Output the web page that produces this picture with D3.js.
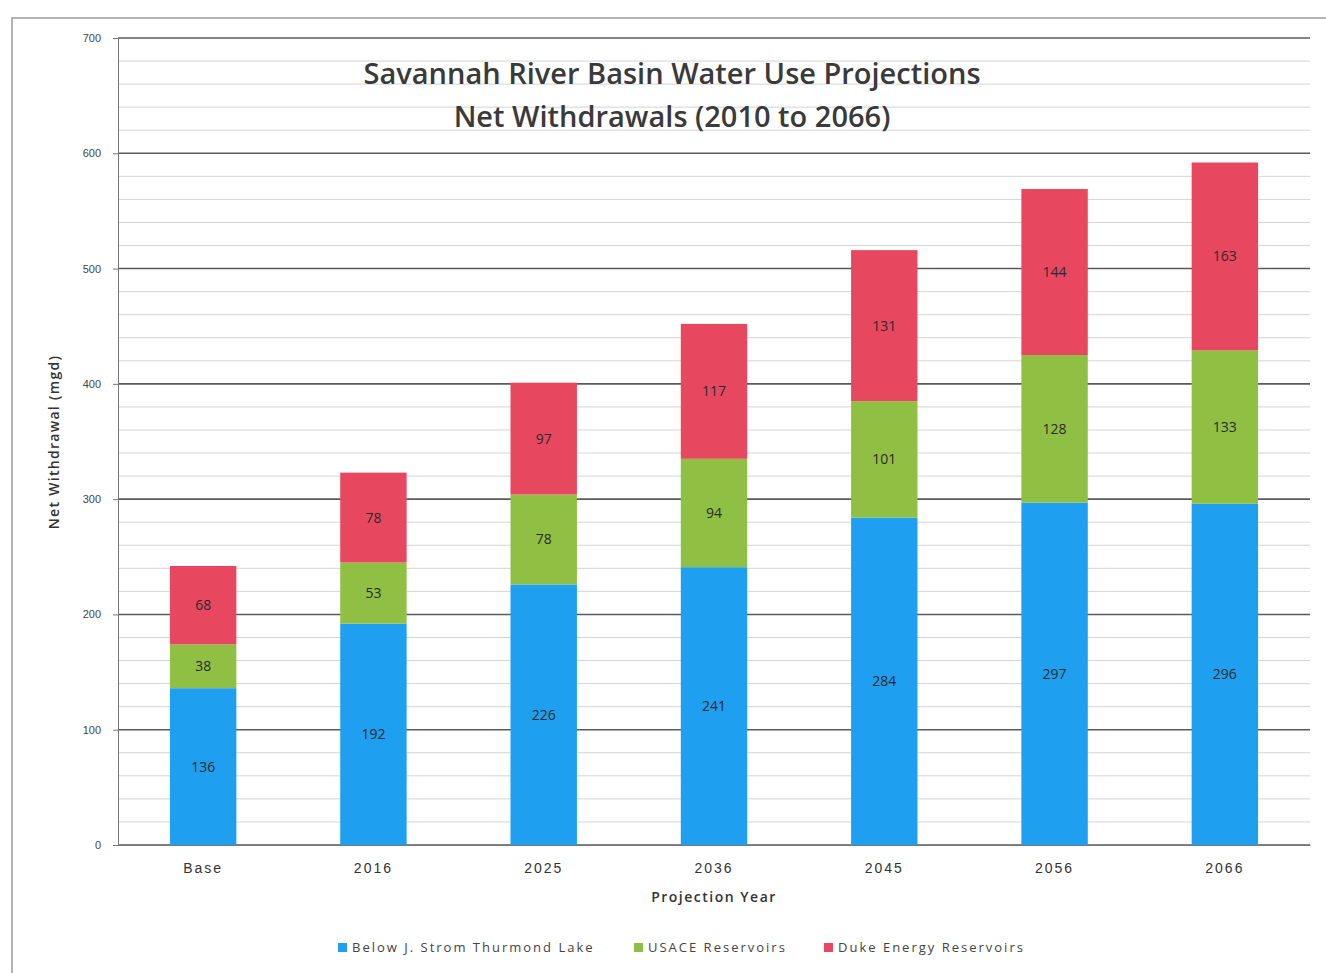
<!DOCTYPE html>
<html><head><meta charset="utf-8">
<script src="https://cdn.jsdelivr.net/npm/d3@7"></script>
<style>
html,body{margin:0;padding:0;background:#fff;}
svg{display:block;font-family:"Open Sans","Liberation Sans",sans-serif;}
</style></head>
<body><svg id="c" width="1326" height="973"></svg>
<script>
const categories = ["Base","2016","2025","2036","2045","2056","2066"];
const seriesNames = ["Below J. Strom Thurmond Lake","USACE Reservoirs","Duke Energy Reservoirs"];
const belowJST = [136,192,226,241,284,297,296];
const usace    = [38,53,78,94,101,128,133];
const duke     = [68,78,97,117,131,144,163];
const yTicks = [0,100,200,300,400,500,600,700];
const colors = ["#1f9ff0","#8fc043","#e8485f"];

const svg = d3.select("#c");
const M = {left:118, right:1310, top:38, bottom:845};
const x = d3.scaleBand().domain(categories).range([M.left, M.right]).paddingInner(0.61).paddingOuter(0.305);
const y = d3.scaleLinear().domain([0,700]).range([M.bottom, M.top]);

// outer frame
svg.append("rect").attr("x",12).attr("y",18).attr("width",1330).attr("height",960)
  .attr("fill","none").attr("stroke","#9a9a9a").attr("stroke-width",1.5);

// minor gridlines
const minor = d3.range(0,701,20).filter(v=>v%100!==0);
svg.append("g").selectAll("line").data(minor).join("line")
  .attr("x1",M.left).attr("x2",M.right).attr("y1",d=>y(d)).attr("y2",d=>y(d))
  .attr("stroke","#d4d4d4").attr("stroke-width",1);
// major gridlines
svg.append("g").selectAll("line").data(yTicks).join("line")
  .attr("x1",M.left).attr("x2",M.right).attr("y1",d=>y(d)).attr("y2",d=>y(d))
  .attr("stroke","#5a5a5a").attr("stroke-width",1.6);

// y axis
const ya = svg.append("g").attr("transform",`translate(${M.left},0)`)
  .call(d3.axisLeft(y).tickValues(yTicks).tickSize(5).tickPadding(12));
ya.select(".domain").attr("stroke","#777");
ya.selectAll(".tick line").attr("stroke","#777");
ya.selectAll("text").attr("font-size",11).attr("fill","#444");

// stacked data
const rows = categories.map((c,i)=>({cat:c, a:belowJST[i], b:usace[i], c2:duke[i]}));
const stack = d3.stack().keys(["a","b","c2"])(rows);

const g = svg.append("g");
stack.forEach((layer,li)=>{
  g.append("g").selectAll("rect").data(layer).join("rect")
    .attr("x",d=>x(d.data.cat)).attr("width",x.bandwidth())
    .attr("y",d=>y(d[1])).attr("height",d=>y(d[0])-y(d[1]))
    .attr("fill",colors[li]);
  g.append("g").selectAll("text").data(layer).join("text")
    .attr("x",d=>x(d.data.cat)+x.bandwidth()/2)
    .attr("y",d=>(y(d[0])+y(d[1]))/2+5)
    .attr("text-anchor","middle").attr("font-size",14).attr("fill","#2a2a2a")
    .text(d=>d[1]-d[0]);
});

// x axis
const xa = svg.append("g").attr("transform",`translate(0,${M.bottom})`)
  .call(d3.axisBottom(x).tickSize(0).tickPadding(18));
xa.select(".domain").attr("stroke","#777");
xa.selectAll("text").attr("font-size",14).attr("letter-spacing","2px").attr("fill","#333");

// axis titles
svg.append("text").attr("x",714).attr("y",902).attr("text-anchor","middle")
  .attr("font-size",14).attr("letter-spacing","1.5px").attr("font-weight",600).attr("fill","#333").text("Projection Year");
svg.append("text").attr("transform","translate(59,442) rotate(-90)").attr("text-anchor","middle")
  .attr("font-size",14).attr("letter-spacing","1.3px").attr("font-weight",600).attr("fill","#333").text("Net Withdrawal (mgd)");

// title
svg.append("text").attr("x",672).attr("y",84).attr("text-anchor","middle")
  .attr("font-size",29).attr("font-weight",600).attr("fill","#3a3a3a").text("Savannah River Basin Water Use Projections");
svg.append("text").attr("x",672).attr("y",127).attr("text-anchor","middle")
  .attr("font-size",29).attr("font-weight",600).attr("fill","#3a3a3a").text("Net Withdrawals (2010 to 2066)");

// legend
const legX = [338,634,824];
const lg = svg.append("g");
seriesNames.forEach((n,i)=>{
  lg.append("rect").attr("x",legX[i]).attr("y",943).attr("width",9).attr("height",9).attr("fill",colors[i]);
  lg.append("text").attr("x",legX[i]+14).attr("y",952).attr("font-size",13).attr("letter-spacing","2px").attr("fill","#444").text(n);
});
</script></body></html>
